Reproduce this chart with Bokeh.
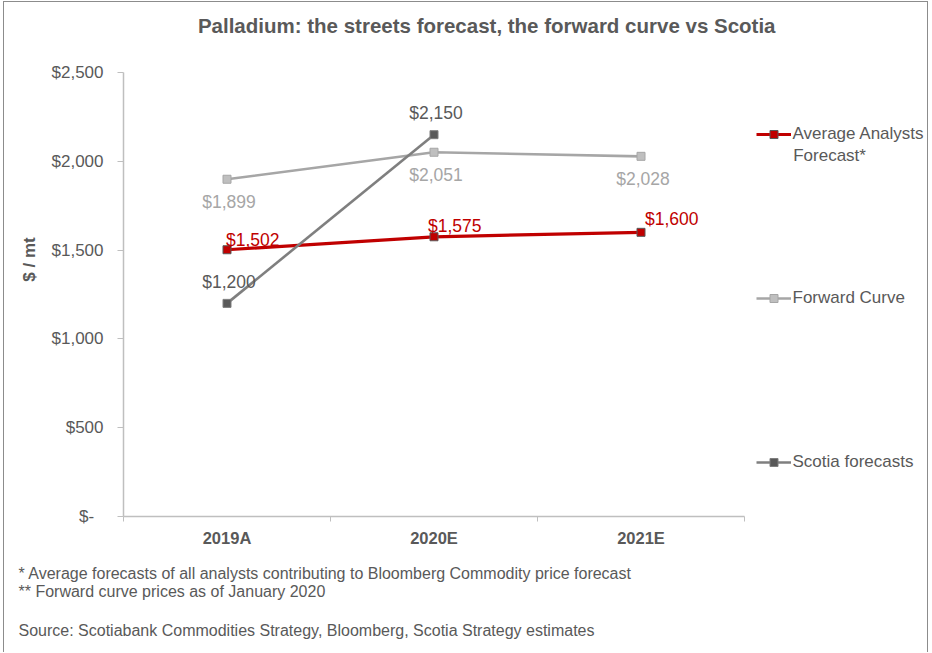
from bokeh.plotting import figure
from bokeh.models import (Range1d, FixedTicker, NumeralTickFormatter, Label,
                          Legend, LegendItem, ColumnDataSource, Title)
from bokeh.core.properties import value
from bokeh.embed import file_html
from bokeh.resources import INLINE

# ---------------- data ----------------
categories = ["2019A", "2020E", "2021E"]
avg_analysts = [1502, 1575, 1600]
forward_curve = [1899, 2051, 2028]
scotia = [1200, 2150]            # only 2019A and 2020E
y_ticks = [0, 500, 1000, 1500, 2000, 2500]
y_max = 2500

title_text = "Palladium: the streets forecast, the forward curve vs Scotia"
footnote_1 = "* Average forecasts of all analysts contributing to Bloomberg Commodity price forecast"
footnote_2 = "** Forward curve prices as of January 2020"
source_text = "Source: Scotiabank Commodities Strategy, Bloomberg, Scotia Strategy estimates"

# ---------------- styles / layout ----------------
FONT = "Liberation Sans"
TXT = "#595959"
AXIS = "#BFBFBF"
RED = "#C00000"
FWD_LINE = "#A6A6A6"
FWD_FILL = "#BFBFBF"
SCO_LINE = "#7F7F7F"
SCO_FILL = "#595959"

W, H = 925, 651          # canvas size
ML, MB = 119, 137        # left / bottom borders (frame spans to top and right edges)
PLOT_W, PLOT_H = 621, 444  # pixel extent of the category axis and of 0..y_max

x_end = len(categories) * (W - ML) / PLOT_W
y_end = y_max * (H - MB) / PLOT_H

xs_all = [i + 0.5 for i in range(len(categories))]

p = figure(width=W, height=H,
           x_range=Range1d(0, x_end), y_range=Range1d(0, y_end),
           output_backend="svg", toolbar_location=None,
           min_border_left=ML, min_border_right=0,
           min_border_top=0, min_border_bottom=MB)
p.styles = {"margin-left": "3px", "margin-top": "1px",
            "border-left": "1px solid #8C8C8C", "border-top": "1px solid #8C8C8C",
            "border-right": "1px solid #8C8C8C"}
p.xgrid.visible = False
p.ygrid.visible = False
p.outline_line_color = None
p.background_fill_color = "white"
p.border_fill_color = "white"

# ---- x axis ----
xa = p.xaxis[0]
xa.bounds = (0, len(categories))
xa.ticker = FixedTicker(ticks=xs_all, minor_ticks=list(range(len(categories) + 1)))
xa.major_label_overrides = {x: c for x, c in zip(xs_all, categories)}
xa.major_tick_out = 0
xa.major_tick_in = 0
xa.minor_tick_out = 5
xa.minor_tick_in = 0
xa.minor_tick_line_color = AXIS
xa.axis_line_color = AXIS
xa.axis_line_width = 1.5
xa.major_label_standoff = 7
xa.major_label_text_font = FONT
xa.major_label_text_font_size = "16.5px"
xa.major_label_text_font_style = "bold"
xa.major_label_text_color = TXT

# ---- y axis ----
ya = p.yaxis[0]
ya.bounds = (0, y_max)
ya.ticker = FixedTicker(ticks=y_ticks)
ya.formatter = NumeralTickFormatter(format="$0,0")
ya.major_label_overrides = {0: "$-\u00a0\u00a0"}
ya.major_tick_out = 6
ya.major_tick_in = 0
ya.minor_tick_line_color = None
ya.major_tick_line_color = AXIS
ya.axis_line_color = AXIS
ya.axis_line_width = 1.5
ya.major_label_standoff = 14
ya.major_label_text_font = FONT
ya.major_label_text_font_size = "17px"
ya.major_label_text_color = TXT
ya.axis_label = "$ / mt"
ya.axis_label_text_font = FONT
ya.axis_label_text_font_size = "17px"
ya.axis_label_text_font_style = "bold"
ya.axis_label_text_color = TXT
ya.axis_label_standoff = 10

# ---- series ----
src_a = ColumnDataSource(dict(x=xs_all, y=avg_analysts,
                              t=[f"${v:,}" for v in avg_analysts],
                              dx=[-1, -6, 4], dy=[-9.5, -11, -13]))
src_f = ColumnDataSource(dict(x=xs_all, y=forward_curve,
                              t=[f"${v:,}" for v in forward_curve]))
src_s = ColumnDataSource(dict(x=xs_all[:len(scotia)], y=scotia,
                              t=[f"${v:,}" for v in scotia]))

la = p.line("x", "y", source=src_a, line_color=RED, line_width=3.2)
ma = p.scatter("x", "y", source=src_a, marker="square", size=8,
               fill_color=RED, line_color="#595959", line_width=1)
lf = p.line("x", "y", source=src_f, line_color=FWD_LINE, line_width=2.6)
mf = p.scatter("x", "y", source=src_f, marker="square", size=8,
               fill_color=FWD_FILL, line_color=FWD_LINE, line_width=1)
ls = p.line("x", "y", source=src_s, line_color=SCO_LINE, line_width=2.6)
ms = p.scatter("x", "y", source=src_s, marker="square", size=8,
               fill_color=SCO_FILL, line_color=SCO_LINE, line_width=1)

# ---- data labels ----
p.text("x", "y", text="t", source=src_a, x_offset="dx", y_offset="dy",
       text_font=value(FONT), text_font_size="17.5px", text_color=RED,
       text_align="left", text_baseline="middle")
p.text("x", "y", text="t", source=src_f, x_offset=2, y_offset=23,
       text_font=value(FONT), text_font_size="17.5px", text_color=FWD_LINE,
       text_align="center", text_baseline="middle")
p.text("x", "y", text="t", source=src_s, x_offset=2, y_offset=-21.5,
       text_font=value(FONT), text_font_size="17.5px", text_color=TXT,
       text_align="center", text_baseline="middle")

# ---- legend (inside the extended frame) ----
legend = Legend(items=[
    LegendItem(label="Average Analysts", renderers=[la, ma]),
    LegendItem(label="Forward Curve", renderers=[lf, mf]),
    LegendItem(label="Scotia forecasts", renderers=[ls, ms]),
], location=(632.5, 43.7), orientation="vertical",
    glyph_width=35, glyph_height=20, label_height=20, label_standoff=2,
    spacing=144, padding=0, margin=0, border_line_color=None,
    background_fill_alpha=0, label_text_font=FONT,
    label_text_font_size="17px", label_text_color=TXT)
p.add_layout(legend)
p.add_layout(Label(x=669.7, y=361, x_units="screen", y_units="screen",
                   text="Forecast*", text_font=FONT, text_font_size="17px",
                   text_color=TXT, text_align="left", text_baseline="middle"))

# ---- title ----
p.add_layout(Label(x=363.2, y=491.5, x_units="screen", y_units="screen",
                   text=title_text, text_font=FONT, text_font_size="20.5px",
                   text_font_style="bold", text_color=TXT,
                   text_align="center", text_baseline="middle"))

# ---- footnotes (titles below the x axis) ----
p.add_layout(Title(text=footnote_1 + "\n" + footnote_2, align="left", offset=-105,
                   standoff=26.6, vertical_align="bottom", text_font=FONT,
                   text_font_size="16px", text_font_style="normal",
                   text_line_height=1.0625, text_color=TXT), "below")
p.add_layout(Title(text=source_text, align="left", offset=-105,
                   standoff=12, vertical_align="bottom", text_font=FONT,
                   text_font_size="16px", text_font_style="normal",
                   text_color=TXT), "below")

open("out.html", "w").write(file_html(p, INLINE))
